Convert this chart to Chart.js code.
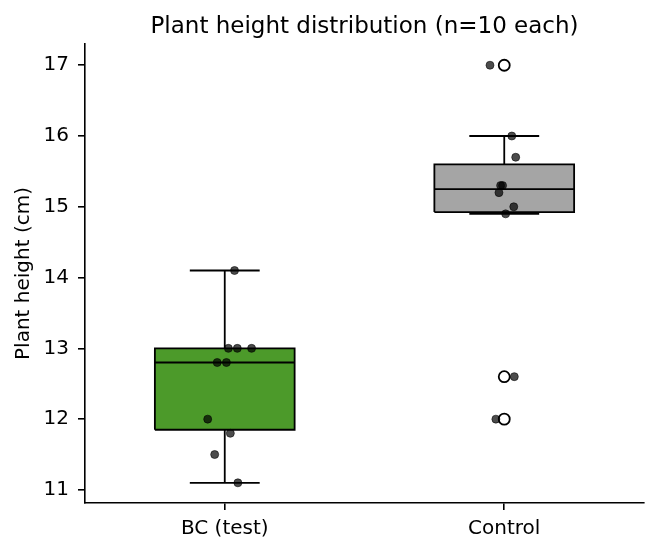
<!DOCTYPE html>
<html>
<head>
<meta charset="utf-8">
<script src="https://cdn.jsdelivr.net/npm/chart.js@4/dist/chart.umd.min.js"></script>
<style>
  html, body { margin: 0; padding: 0; background: #fff; }
  #wrap { width: 658px; height: 554px; }
</style>
</head>
<body>
<div id="wrap"><canvas id="chart" width="658" height="554"></canvas></div>
<script>
// data
const groups = ["BC (test)", "Control"];
const bcHeights = [14.1, 13.0, 13.0, 13.0, 12.8, 12.8, 12.0, 11.8, 11.5, 11.1];
const bcJitter = [0.035, 0.013, 0.045, 0.096, -0.027, 0.006, -0.061, 0.020, -0.036, 0.047];
const controlHeights = [17.0, 16.0, 15.7, 15.3, 15.3, 15.2, 15.0, 14.9, 12.6, 12.0];
const controlJitter = [-0.051, 0.027, 0.041, -0.013, -0.006, -0.019, 0.034, 0.005, 0.036, -0.030];
const yTicks = [11, 12, 13, 14, 15, 16, 17];

const heights = [bcHeights, controlHeights];
const jitter = [bcJitter, controlJitter];
const boxColors = ["#4c9a2a", "#a5a5a5"];
const FONT = "'DejaVu Sans', sans-serif";

function quantile(sorted, p) {
  const pos = (sorted.length - 1) * p;
  const lo = Math.floor(pos), hi = Math.ceil(pos);
  return sorted[lo] + (sorted[hi] - sorted[lo]) * (pos - lo);
}

// matplotlib style box stats (1.5 IQR whiskers)
function boxStats(values) {
  const s = [...values].sort((a, b) => a - b);
  const q1 = quantile(s, 0.25), med = quantile(s, 0.5), q3 = quantile(s, 0.75);
  const iqr = q3 - q1;
  const inside = s.filter(v => v >= q1 - 1.5 * iqr && v <= q3 + 1.5 * iqr);
  const out = s.filter(v => v < q1 - 1.5 * iqr || v > q3 + 1.5 * iqr);
  return { q1, med, q3, lo: inside[0], hi: inside[inside.length - 1], out };
}

const BOX_HALF = 0.25, CAP_HALF = 0.125, LW = 1.8;

function lineSet(points, order) {
  return {
    type: "line", data: points, borderColor: "#000", borderWidth: LW,
    pointRadius: 0, fill: false, tension: 0, order
  };
}

const datasets = [];
groups.forEach((g, i) => {
  const st = boxStats(heights[i]);
  // box body
  datasets.push({
    type: "line",
    data: [{ x: i - BOX_HALF, y: st.q3 }, { x: i + BOX_HALF, y: st.q3 }],
    fill: { value: st.q1 }, backgroundColor: boxColors[i],
    borderColor: "rgba(0,0,0,0)", borderWidth: 1, pointRadius: 0, order: 6
  });
  // box outline
  datasets.push(lineSet([
    { x: i - BOX_HALF, y: st.q1 }, { x: i - BOX_HALF, y: st.q3 },
    { x: i + BOX_HALF, y: st.q3 }, { x: i + BOX_HALF, y: st.q1 },
    { x: i - BOX_HALF, y: st.q1 }
  ], 4));
  // median
  datasets.push(lineSet([{ x: i - BOX_HALF, y: st.med }, { x: i + BOX_HALF, y: st.med }], 4));
  // whiskers + caps
  datasets.push(lineSet([{ x: i, y: st.q3 }, { x: i, y: st.hi }], 4));
  datasets.push(lineSet([{ x: i, y: st.q1 }, { x: i, y: st.lo }], 4));
  datasets.push(lineSet([{ x: i - CAP_HALF, y: st.hi }, { x: i + CAP_HALF, y: st.hi }], 4));
  datasets.push(lineSet([{ x: i - CAP_HALF, y: st.lo }, { x: i + CAP_HALF, y: st.lo }], 4));
  // fliers
  if (st.out.length) {
    datasets.push({
      type: "scatter", data: st.out.map(v => ({ x: i, y: v })),
      pointRadius: 5.5, pointBackgroundColor: "rgba(0,0,0,0)",
      pointBorderColor: "#000", pointBorderWidth: 1.8, order: 2
    });
  }
  // jittered raw points
  datasets.push({
    type: "scatter", data: heights[i].map((v, k) => ({ x: i + jitter[i][k], y: v })),
    pointRadius: 4, pointBackgroundColor: "rgba(0,0,0,0.7)",
    pointBorderColor: "rgba(0,0,0,0.7)", pointBorderWidth: 0.8, order: 1
  });
});

const titlePlugin = {
  id: "axesTitle",
  afterDraw(chart) {
    const { ctx, chartArea } = chart;
    ctx.save();
    ctx.font = "23px " + FONT;
    ctx.fillStyle = "#000";
    ctx.textAlign = "center";
    ctx.textBaseline = "alphabetic";
    ctx.fillText("Plant height distribution (n=10 each)", (chartArea.left + chartArea.right) / 2, 32.5);
    ctx.restore();
  }
};

const axisGrid = { display: true, drawOnChartArea: false, drawTicks: true, tickLength: 7, color: "#000", lineWidth: 1.6 };
const axisBorder = { display: true, color: "#000", width: 1.6 };

new Chart(document.getElementById("chart"), {
  type: "scatter",
  data: { datasets },
  options: {
    responsive: false,
    animation: false,
    events: [],
    layout: { padding: { top: 44, right: 14, left: 0, bottom: 0 } },
    plugins: { legend: { display: false }, tooltip: { enabled: false }, title: { display: false } },
    scales: {
      x: {
        type: "linear", min: -0.5, max: 1.5,
        grid: axisGrid, border: axisBorder,
        afterBuildTicks: s => { s.ticks = groups.map((g, i) => ({ value: i })); },
        afterFit: s => { s.height = 51; },
        ticks: { callback: v => groups[v], color: "#000", font: { family: FONT, size: 20 }, padding: 7, maxRotation: 0 }
      },
      y: {
        type: "linear", min: 10.815, max: 17.3,
        grid: axisGrid, border: axisBorder,
        afterBuildTicks: s => { s.ticks = yTicks.map(v => ({ value: v })); },
        afterFit: s => { s.width = 85; },
        ticks: { color: "#000", font: { family: FONT, size: 20 }, padding: 9 },
        title: { display: true, text: "Plant height (cm)", color: "#000", font: { family: FONT, size: 20 }, padding: { top: 12, bottom: 0 } }
      }
    }
  },
  plugins: [titlePlugin]
});
</script>
</body>
</html>
